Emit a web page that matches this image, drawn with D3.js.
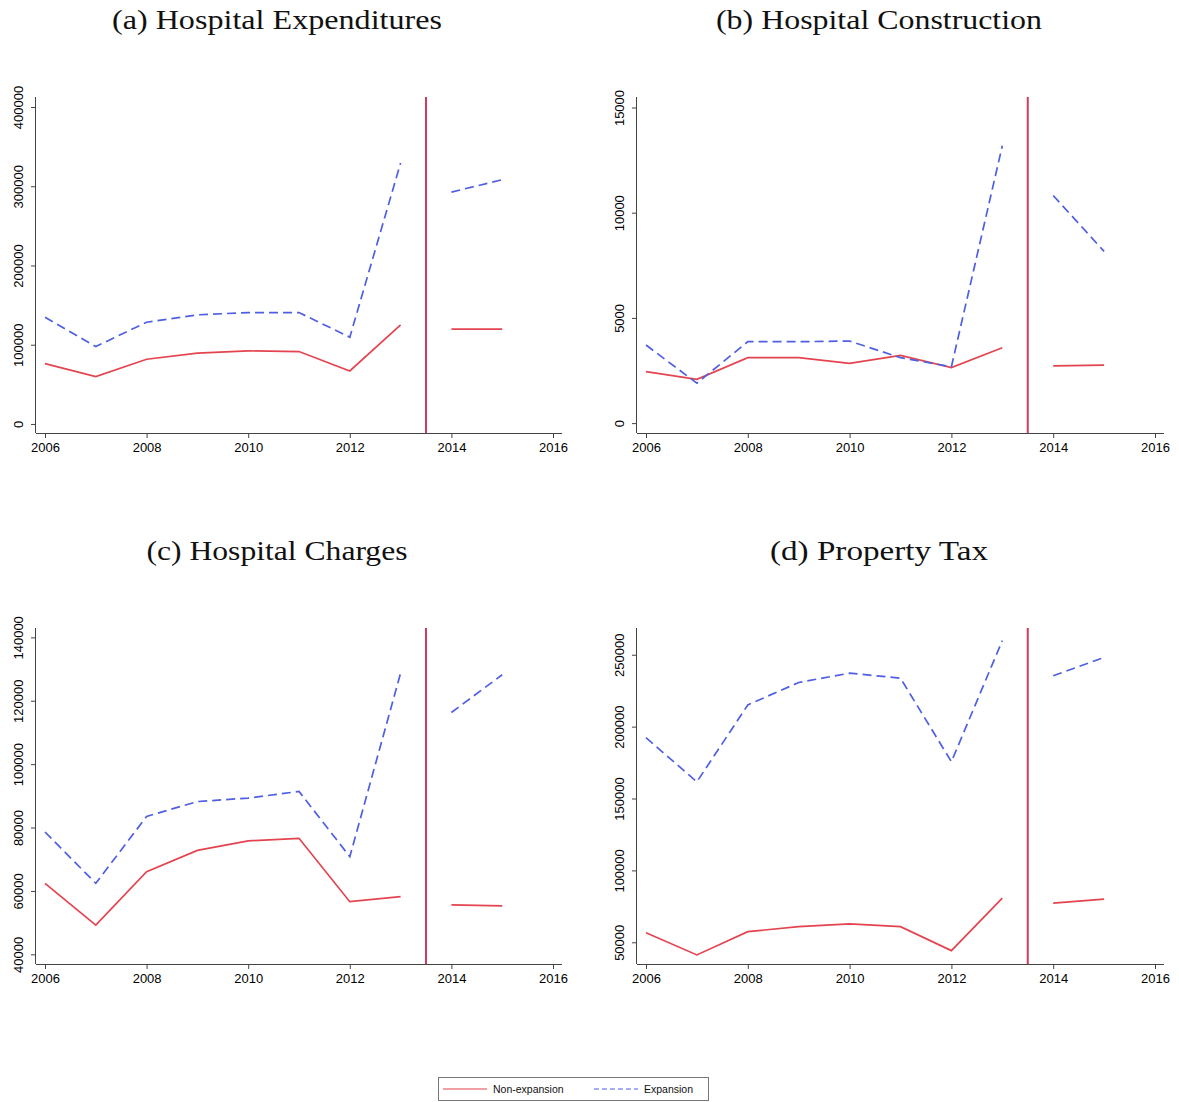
<!DOCTYPE html>
<html>
<head>
<meta charset="utf-8">
<script src="https://cdn.jsdelivr.net/npm/d3@7"></script>
<style>
  body { margin:0; background:#fff; }
  svg { display:block; }
  .title { font-family:"Liberation Serif", serif; font-size:27px; fill:#111; }
  .axis text { font-family:"Liberation Sans", Arial, sans-serif; font-size:13px; fill:#000; }
  .axis path, .axis line { stroke:#444; stroke-width:1; }
  .leg { font-family:"Liberation Sans", Arial, sans-serif; font-size:10.5px; fill:#111; }
</style>
</head>
<body>
<svg id="chart" width="1179" height="1102"></svg>
<script>

// ===============================
// DATA
// ===============================

const years=[2006,2007,2008,2009,2010,2011,2012,2013,2014,2015];

const xTicks=[2006,2008,2010,2012,2014,2016];

const cutoff=2013.5;

const titles=[
    "(a) Hospital Expenditures",
    "(b) Hospital Construction",
    "(c) Hospital Charges",
    "(d) Property Tax"
];

const expenditureNon=[76200,59800,81700,89300,92200,91400,66900,125100,119600,119600];
const expenditureExp=[134700,97700,128400,137700,140600,140600,109500,329300,292600,308200];

const constructionNon=[2450,2080,3110,3110,2840,3220,2640,3580,2720,2760];
const constructionExp=[3710,1900,3870,3870,3900,3110,2680,13180,10820,8160];

const chargesNon=[62400,49200,66100,72800,75800,76600,56600,58200,55600,55300];
const chargesExp=[78600,62400,83500,88200,89300,91400,70800,128700,116300,128200];

const taxNon=[56700,41200,57400,60900,62800,60900,44200,80700,77200,80000];
const taxExp=[192300,161600,215100,230700,237200,233700,175600,259800,235400,248100];

const yTicksA=[0,100000,200000,300000,400000];
const yTicksB=[0,5000,10000,15000];
const yTicksC=[40000,60000,80000,100000,120000,140000];
const yTicksD=[50000,100000,150000,200000,250000];

const yDomainA=[-11400,412600];
const yDomainB=[-470,15500];
const yDomainC=[36950,142950];
const yDomainD=[34900,268600];

const legendLabels=["Non-expansion","Expansion"];

// ===============================
// LAYOUT
// ===============================

const panels=[
    {non:expenditureNon, exp:expenditureExp, ticks:yTicksA, domain:yDomainA, x0:36,  x1:562,  y0:97,  y1:433, tx:277, ty:29,  tw:330},
    {non:constructionNon,exp:constructionExp,ticks:yTicksB, domain:yDomainB, x0:637, x1:1164, y0:97,  y1:433, tx:879, ty:29,  tw:326},
    {non:chargesNon,     exp:chargesExp,     ticks:yTicksC, domain:yDomainC, x0:36,  x1:562,  y0:628, y1:964, tx:277, ty:560, tw:261},
    {non:taxNon,         exp:taxExp,         ticks:yTicksD, domain:yDomainD, x0:637, x1:1164, y0:628, y1:964, tx:879, ty:560, tw:218}
];

const RED="#e4444f";
const CUT="#d23a5e";
const BLUE="#4f5fe3";

const svg=d3.select("#chart");

// ===============================
// PANELS
// ===============================

panels.forEach((p,i)=>{

    const x=d3.scaleLinear()
        .domain([2006,2016])
        .range([p.x0+9,p.x1-9]);

    const y=d3.scaleLinear()
        .domain(p.domain)
        .range([p.y1,p.y0]);

    svg.append("text")
        .attr("class","title")
        .attr("x",p.tx)
        .attr("y",p.ty)
        .attr("text-anchor","middle")
        .attr("textLength",p.tw)
        .attr("lengthAdjust","spacingAndGlyphs")
        .text(titles[i]);

    // -------- AXES --------

    const gx=svg.append("g")
        .attr("class","axis")
        .attr("transform",`translate(0,${p.y1})`)
        .call(d3.axisBottom(x).tickValues(xTicks).tickSize(5).tickSizeOuter(0).tickFormat(d3.format("d")));

    gx.select(".domain").attr("d",`M${p.x0},0.5H${p.x1}`);

    gx.selectAll("text").attr("y",10).attr("dy","0.71em");

    const gy=svg.append("g")
        .attr("class","axis")
        .attr("transform",`translate(${p.x0},0)`)
        .call(d3.axisLeft(y).tickValues(p.ticks).tickSize(5).tickSizeOuter(0).tickFormat(d3.format("d")));

    gy.select(".domain").attr("d",`M-0.5,${p.y0}V${p.y1}`);

    gy.selectAll(".tick text")
        .attr("x",null)
        .attr("dy",null)
        .attr("text-anchor","middle")
        .attr("transform","translate(-13,0) rotate(-90)")
        .attr("y",0);

    // -------- CUTOFF LINE --------

    svg.append("line")
        .attr("x1",x(cutoff))
        .attr("x2",x(cutoff))
        .attr("y1",p.y0)
        .attr("y2",p.y1)
        .attr("stroke",CUT)
        .attr("stroke-width",2);

    // -------- SERIES --------

    const line=d3.line()
        .defined(d=>d[0]!==null)
        .x(d=>x(d[0]))
        .y(d=>y(d[1]));

    const build=vals=>{
        const pts=[];
        years.forEach((yr,k)=>{
            if(yr===2014) pts.push([null,null]);
            pts.push([yr,vals[k]]);
        });
        return pts;
    };

    svg.append("path")
        .datum(build(p.non))
        .attr("fill","none")
        .attr("stroke",RED)
        .attr("stroke-width",1.7)
        .attr("d",line);

    svg.append("path")
        .datum(build(p.exp))
        .attr("fill","none")
        .attr("stroke",BLUE)
        .attr("stroke-width",1.7)
        .attr("stroke-dasharray","9,5")
        .attr("d",line);

});

// ===============================
// LEGEND
// ===============================

const leg=svg.append("g");

leg.append("rect")
    .attr("x",438.5)
    .attr("y",1077.5)
    .attr("width",270)
    .attr("height",23)
    .attr("fill","#fff")
    .attr("stroke","#777")
    .attr("stroke-width",1);

leg.append("line")
    .attr("x1",443).attr("x2",487)
    .attr("y1",1089).attr("y2",1089)
    .attr("stroke",RED).attr("stroke-width",1.2);

leg.append("text")
    .attr("class","leg")
    .attr("x",493).attr("y",1093)
    .text(legendLabels[0]);

leg.append("line")
    .attr("x1",594).attr("x2",638)
    .attr("y1",1089).attr("y2",1089)
    .attr("stroke",BLUE).attr("stroke-width",1.2)
    .attr("stroke-dasharray","5,3");

leg.append("text")
    .attr("class","leg")
    .attr("x",644).attr("y",1093)
    .text(legendLabels[1]);

</script>
</body>
</html>
